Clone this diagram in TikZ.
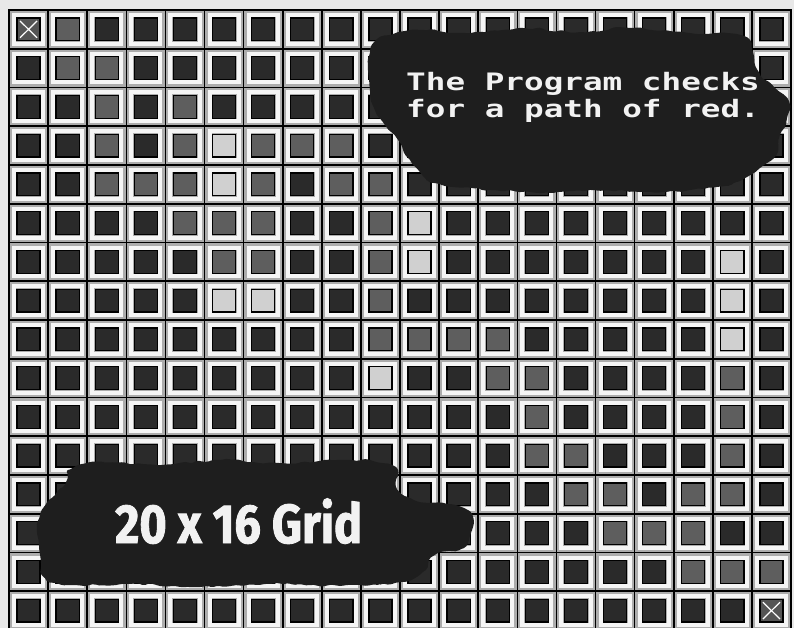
\documentclass[tikz,border=0pt]{standalone}
\usepackage{fontspec}
\usetikzlibrary{decorations.pathmorphing}
\newfontfamily\pixelfont[FakeStretch=1.36]{DejaVu Sans Mono}
\newfontfamily\labelfont[FakeStretch=0.85,BoldFeatures={FakeBold=1.6}]{Fira Sans}
\definecolor{paper}{HTML}{E8E8E8}
\definecolor{frame}{HTML}{ACACAC}
\definecolor{hole}{HTML}{2A2A2A}
\definecolor{redcell}{HTML}{5E5E5E}
\definecolor{litcell}{HTML}{D0D0D0}
\definecolor{ink}{HTML}{1E1E1E}
\newcommand{\cw}{39.1}
\newcommand{\ch}{38.75}
\begin{document}
\begin{tikzpicture}[x=1pt,y=-1pt,
  cellbox/.style={fill=frame,draw=black,line width=1.6pt},
  shine/.style={draw=white!96!black,line width=4pt},
  holebox/.style={fill=hole,draw=black,line width=1.3pt},
  blob/.style={fill=ink,decorate,decoration={random steps,segment length=5pt,amplitude=1.5pt},rounded corners=2pt}]
  \useasboundingbox (0,0) rectangle (794,628);
  \fill[paper] (0,0) rectangle (794,628);
  \begin{scope}
    \clip (0,0) rectangle (794,628);
    % the 20 x 16 board
    \foreach \c in {0,...,19} {
      \foreach \r in {0,...,15} {
        \path[cellbox] ({9+\c*\cw},{10+\r*\ch}) rectangle ++(\cw,\ch);
        \path[shine] ({9+\c*\cw+5},{10+\r*\ch+5}) rectangle ++({\cw-10},{\ch-10});
        \path[holebox] ({9+\c*\cw+8},{10+\r*\ch+8}) rectangle ++({\cw-16},{\ch-16});
      }
    }
    % red squares
    \foreach \c/\r in {1/0,1/1,2/1,2/2,4/2,2/3,4/3,6/3,7/3,8/3,2/4,3/4,4/4,6/4,8/4,9/4,
                       4/5,5/5,6/5,9/5,5/6,6/6,9/6,9/7,9/8,10/8,11/8,12/8,12/9,13/9,18/9,
                       13/10,18/10,13/11,14/11,18/11,14/12,15/12,17/12,18/12,15/13,16/13,17/13,
                       17/14,18/14,19/14}
      \path[holebox,fill=redcell] ({9+\c*\cw+8},{10+\r*\ch+8}) rectangle ++({\cw-16},{\ch-16});
    % lit squares
    \foreach \c/\r in {5/3,5/4,10/5,10/6,5/7,6/7,18/6,18/7,18/8,9/9}
      \path[holebox,fill=litcell] ({9+\c*\cw+8},{10+\r*\ch+8}) rectangle ++({\cw-16},{\ch-16});
    % start and goal
    \foreach \c/\r in {0/0,19/15} {
      \path[holebox,fill=hole!80!white] ({9+\c*\cw+8},{10+\r*\ch+8}) rectangle ++({\cw-16},{\ch-16});
      \draw[white,line width=1.2pt] ({9+\c*\cw+11},{10+\r*\ch+11}) -- ++({\cw-22},{\ch-22});
      \draw[white,line width=1.2pt] ({9+\c*\cw+\cw-11},{10+\r*\ch+11}) -- ++({22-\cw},{\ch-22});
    }
  \end{scope}
  % ink patches
  \path[blob] plot[smooth cycle,tension=0.55] coordinates {
    (385,36) (420,30) (470,33) (520,28) (580,32) (630,28) (690,33) (740,35)
    (752,50) (758,70) (775,88) (789,102) (787,118) (780,135) (776,155) (760,168)
    (745,178) (725,186) (690,190) (640,192) (590,190) (540,193) (490,190) (445,186)
    (425,178) (410,160) (398,140) (385,125) (375,110) (370,90) (368,65) (372,45)};
  \path[blob] plot[smooth cycle,tension=0.55] coordinates {
    (70,470) (100,462) (160,465) (220,460) (280,463) (340,460) (392,465) (398,490)
    (420,502) (455,505) (472,515) (470,535) (462,548) (435,555) (425,570) (400,582)
    (340,586) (270,584) (200,587) (130,584) (70,585) (45,578) (40,555) (37,530)
    (42,510) (55,495) (66,482)};
  \node[anchor=north west,inner sep=0pt,align=left,text=white!95!black,
        font=\pixelfont\bfseries\fontsize{24}{27}\selectfont] (note) at (406,72)
        {The Program checks\\for a path of red.};
  \node[anchor=base west,inner sep=0pt,text=white!95!black,
        font=\labelfont\bfseries\fontsize{55}{60}\selectfont] (title) at (115,543)
        {20 x 16 Grid};
\end{tikzpicture}
\end{document}
